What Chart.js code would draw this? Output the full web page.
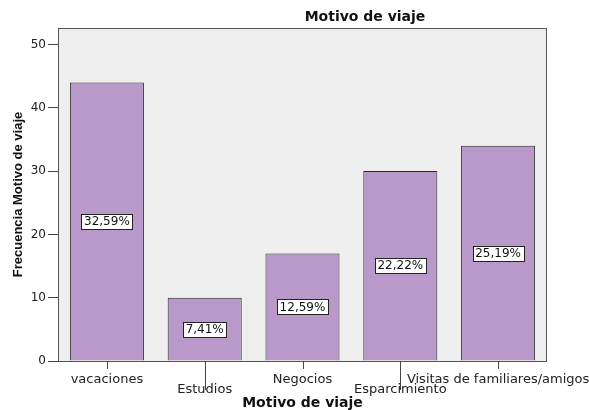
<!DOCTYPE html>
<html>
<head>
<meta charset="utf-8">
<script src="https://cdn.jsdelivr.net/npm/chart.js@4"></script>
<style>
  html, body { margin: 0; padding: 0; background: #fff; }
  #wrap { width: 589px; height: 410px; }
</style>
</head>
<body>
<div id="wrap"><canvas id="viajeChart" width="589" height="410"></canvas></div>
<script>
const categories = ["vacaciones", "Estudios", "Negocios", "Esparcimiento", "Visitas de familiares/amigos"];
const frecuencias = [44, 10, 17, 30, 34];
const porcentajes = ["32,59%", "7,41%", "12,59%", "22,22%", "25,19%"];
const yTicks = [0, 10, 20, 30, 40, 50];

const FONT = "'DejaVu Sans', sans-serif";
const NARROW = "'Liberation Sans Narrow', 'Liberation Sans', sans-serif";

// plot background, frame, x tick marks, percentage boxes and title
const spssLook = {
    id: "spssLook",
    beforeDatasetsDraw(chart) {
        const {ctx, chartArea: a} = chart;
        ctx.save();
        ctx.fillStyle = "#efefef";
        ctx.fillRect(a.left, a.top, a.right - a.left, a.bottom - a.top);
        ctx.restore();
    },
    afterDatasetsDraw(chart) {
        const {ctx, chartArea: a} = chart;
        const xs = chart.scales.x;
        ctx.save();
        ctx.strokeStyle = "#555";
        ctx.lineWidth = 1;
        ctx.strokeRect(a.left + 0.5, a.top + 0.5, a.right - a.left - 1, a.bottom - a.top);

        // x tick marks, longer for the staggered labels
        ctx.strokeStyle = "#444";
        categories.forEach((c, i) => {
            const x = Math.round(xs.getPixelForTick(i)) + 0.5;
            ctx.beginPath();
            ctx.moveTo(x, a.bottom);
            ctx.lineTo(x, a.bottom + (i % 2 ? 29 : 8));
            ctx.stroke();
        });

        // percentage labels
        const meta = chart.getDatasetMeta(0);
        ctx.font = "12px " + FONT;
        ctx.textAlign = "center";
        ctx.textBaseline = "middle";
        meta.data.forEach((bar, i) => {
            const txt = porcentajes[i];
            const w = Math.round(ctx.measureText(txt).width + 5);
            const h = 15;
            const cx = bar.x;
            const cy = (bar.y + bar.base) / 2;
            const x0 = Math.round(cx - w / 2) + 0.5;
            const y0 = Math.round(cy - h / 2) + 0.5;
            ctx.fillStyle = "#fff";
            ctx.fillRect(x0, y0, w, h);
            ctx.strokeStyle = "#222";
            ctx.strokeRect(x0, y0, w, h);
            ctx.fillStyle = "#111";
            ctx.fillText(txt, cx, cy + 0.5);
        });

        // chart title
        ctx.font = "bold 14px " + FONT;
        ctx.fillStyle = "#111";
        ctx.fillText("Motivo de viaje", 365, 17);
        ctx.restore();
    }
};

function drawChart() {
    const ctx = document.getElementById("viajeChart").getContext("2d");
    new Chart(ctx, {
        type: "bar",
        data: {
            labels: categories,
            datasets: [{
                label: "Frecuencia",
                data: frecuencias,
                backgroundColor: "#b899c9",
                borderColor: "#2a2a2a",
                borderWidth: 1,
                barPercentage: 0.757,
                categoryPercentage: 1
            }]
        },
        options: {
            responsive: false,
            animation: false,
            layout: {padding: {top: 28, right: 42, bottom: 0, left: 0}},
            plugins: {
                legend: {display: false},
                tooltip: {enabled: false}
            },
            scales: {
                x: {
                    grid: {display: false},
                    border: {display: false},
                    ticks: {
                        color: "#222",
                        font: {family: FONT, size: 13, lineHeight: 0.8},
                        padding: 5,
                        maxRotation: 0,
                        autoSkip: false,
                        callback: (v, i) => i % 2 ? ["", categories[i]] : categories[i]
                    },
                    title: {
                        display: true,
                        text: "Motivo de viaje",
                        color: "#111",
                        font: {family: FONT, size: 14, weight: "bold", lineHeight: 1},
                        padding: {top: 0, bottom: 0}
                    },
                    afterFit: s => { s.height = 49; s.paddingLeft = 0; s.paddingRight = 0; }
                },
                y: {
                    min: 0,
                    max: 52.6,
                    grid: {drawOnChartArea: false, drawTicks: true, tickLength: 10, color: "#444"},
                    border: {display: false},
                    ticks: {color: "#222", font: {family: FONT, size: 12}, padding: 2},
                    afterBuildTicks: s => { s.ticks = yTicks.map(v => ({value: v})); },
                    title: {
                        display: true,
                        text: "Frecuencia Motivo de viaje",
                        color: "#111",
                        font: {family: NARROW, size: 13, weight: "bold", lineHeight: 1},
                        padding: {top: 12, bottom: 0}
                    },
                    afterFit: s => { s.width = 58; s.paddingTop = 0; s.paddingBottom = 0; }
                }
            }
        },
        plugins: [spssLook]
    });
}

window.onload = drawChart;
</script>
</body>
</html>
